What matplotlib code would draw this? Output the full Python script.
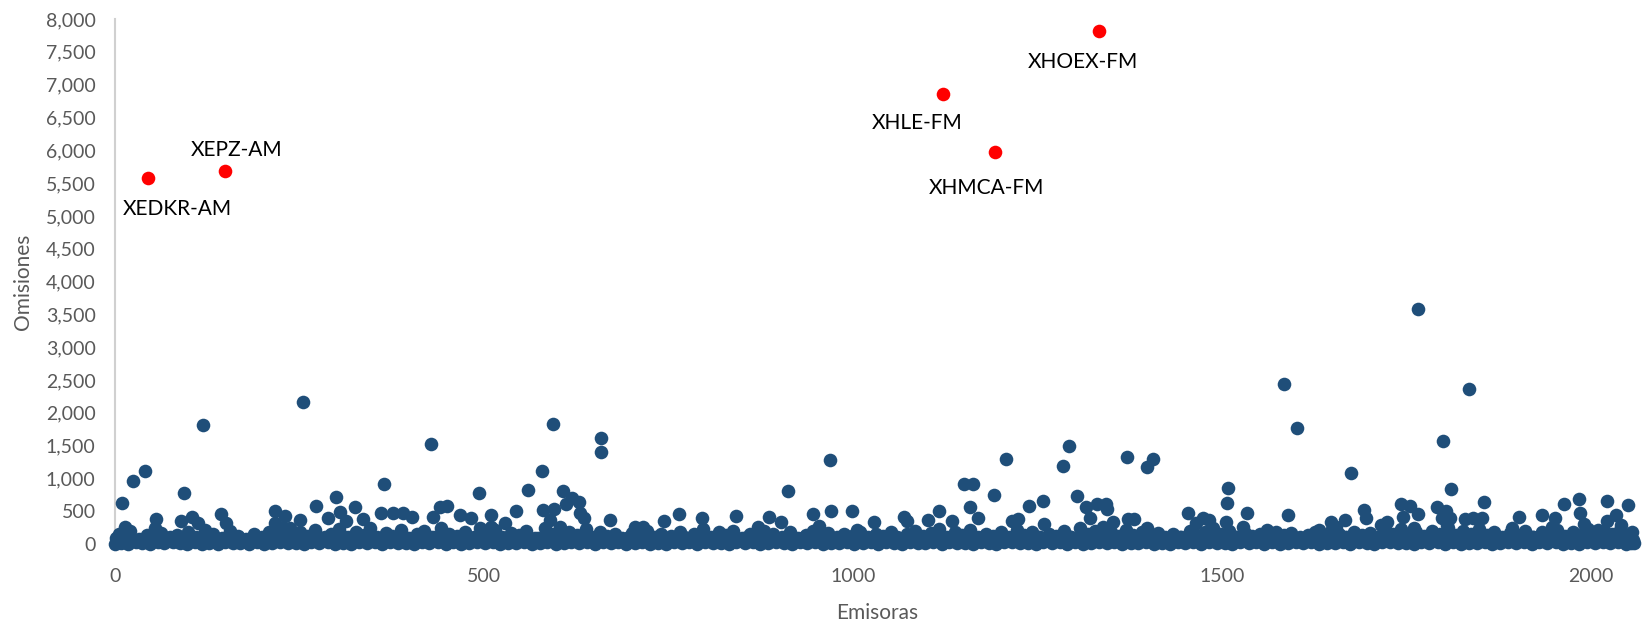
import matplotlib
matplotlib.use("Agg")
import matplotlib.pyplot as plt
from matplotlib.ticker import FuncFormatter, MultipleLocator

plt.rcParams['font.family'] = ['Lato', 'DejaVu Sans']

# Emisoras destacadas (en rojo)
red_names = ['XEDKR-AM', 'XEPZ-AM', 'XHLE-FM', 'XHMCA-FM', 'XHOEX-FM']
red_x = [45, 149, 1122, 1192, 1333]
red_y = [5580, 5690, 6860, 5980, 7820]

# Emisoras con muchas omisiones (x, omisiones)
hi_pts = [
    (10, 630), (24, 965), (40, 1112), (14, 254), (56, 386), (54, 239), (93, 782), (90, 356),
    (104, 406), (113, 315), (119, 1818), (143, 457), (151, 315), (217, 498), (217, 315),
    (231, 432), (237, 239), (250, 361), (255, 2169), (273, 584), (289, 396), (299, 721),
    (305, 483), (313, 356), (325, 569), (336, 381), (360, 478), (364, 914), (377, 467),
    (390, 467), (403, 416), (428, 1524), (431, 416), (440, 559), (450, 579), (467, 447),
    (482, 391), (493, 782), (495, 239), (509, 447), (510, 254), (528, 315), (544, 508),
    (559, 823), (578, 1112), (580, 518), (589, 366), (594, 1834), (595, 528), (607, 803),
    (611, 605), (619, 706), (629, 635), (630, 478), (636, 391), (658, 1397), (659, 1620),
    (671, 366), (705, 254), (716, 264), (744, 356), (764, 462), (796, 391), (842, 432),
    (871, 254), (886, 416), (902, 330), (912, 803), (946, 457), (954, 274), (969, 1285),
    (970, 508), (998, 498), (1005, 213), (1029, 340), (1069, 416), (1073, 356), (1102, 366),
    (1117, 508), (1134, 356), (1151, 909), (1158, 564), (1163, 909), (1169, 396), (1191, 747),
    (1207, 1295), (1216, 356), (1223, 376), (1238, 579), (1258, 660), (1259, 305),
    (1285, 1189), (1292, 1498), (1304, 731), (1316, 559), (1321, 391), (1331, 610),
    (1343, 610), (1344, 533), (1352, 330), (1371, 1331), (1373, 381), (1381, 381),
    (1398, 1168), (1399, 239), (1406, 1295), (1454, 467), (1465, 315), (1474, 391),
    (1483, 366), (1505, 335), (1507, 620), (1508, 859), (1529, 254), (1534, 467), (1561, 218),
    (1584, 2433), (1589, 447), (1602, 1763), (1631, 213), (1647, 340), (1655, 264),
    (1666, 366), (1675, 1087), (1692, 518), (1695, 391), (1715, 289), (1724, 330),
    (1743, 605), (1745, 406), (1755, 579), (1760, 239), (1765, 457), (1766, 3576),
    (1791, 559), (1798, 391), (1799, 1569), (1804, 508), (1805, 289), (1809, 391),
    (1810, 833), (1829, 381), (1835, 2357), (1840, 391), (1852, 391), (1855, 645),
    (1893, 239), (1902, 416), (1933, 437), (1947, 264), (1951, 391), (1963, 610),
    (1984, 691), (1985, 478), (1991, 305), (2010, 213), (2022, 655), (2022, 356),
    (2034, 442), (2040, 289), (2050, 600),
]

# Emisoras con pocas omisiones (banda baja)
band_low = [
    (0,0),(3,40),(8,15),(18,5),(28,30),(37,10),(47,0),(58,25),(67,8),(78,35),(88,12),(97,0),
    (108,28),(118,6),(128,18),(139,0),(149,32),(160,10),(170,22),(181,4),(192,30),(202,0),
    (213,16),(224,38),(234,8),(245,20),(256,0),(266,34),(277,12),(288,26),(298,4),(309,18),
    (320,0),(330,36),(341,14),(352,24),(362,2),(373,30),(384,10),(394,20),(405,0),(416,38),
    (426,12),(437,26),(448,6),(458,32),(469,0),(480,18),(490,28),(501,8),(512,36),(522,0),
    (533,22),(544,12),(554,30),(565,4),(576,20),(586,34),(597,0),(608,16),(618,26),(629,8),
    (640,38),(650,0),(661,24),(672,14),(682,32),(693,2),(704,20),(714,30),(725,6),(736,16),
    (746,0),(757,36),(768,12),(778,24),(789,4),(800,30),(810,10),(821,22),(832,0),(842,34),
    (853,14),(864,26),(874,2),(885,18),(896,32),(906,8),(917,0),(928,28),(938,16),(949,36),
    (960,4),(970,22),(981,12),(992,30),(1002,0),(1013,20),(1024,34),(1034,6),(1045,24),
    (1056,14),(1066,0),(1077,32),(1088,18),(1098,8),(1109,28),(1120,0),(1130,38),(1141,12),
    (1152,22),(1162,4),(1173,30),(1184,16),(1194,0),(1205,26),(1216,36),(1226,10),(1237,20),
    (1248,0),(1258,32),(1269,14),(1280,24),(1290,6),(1301,34),(1312,0),(1322,18),(1333,28),
    (1344,8),(1354,38),(1365,0),(1376,22),(1386,12),(1397,30),(1408,4),(1418,20),(1429,0),
    (1440,36),(1450,14),(1461,26),(1472,2),(1482,32),(1493,10),(1504,22),(1514,0),(1525,28),
    (1536,16),(1546,34),(1557,6),(1568,24),(1578,0),(1589,18),(1600,30),(1610,8),(1621,38),
    (1632,0),(1642,20),(1653,12),(1664,28),(1674,4),(1685,32),(1696,14),(1706,0),(1717,24),
    (1728,36),(1738,10),(1749,20),(1760,0),(1770,30),(1781,16),(1792,26),(1802,6),(1813,34),
    (1824,0),(1834,22),(1845,12),(1856,30),(1866,2),(1877,18),(1888,28),(1898,8),(1909,36),
    (1920,0),(1930,24),(1941,14),(1952,32),(1962,4),(1973,20),(1984,0),(1994,30),(2005,16),
    (2016,26),(2026,8),(2037,34),(2048,0),(2054,20),(2058,10),
]

band_fill = [
    (5,70),(15,95),(25,60),(41,85),(50,110),(62,70),(75,100),(91,65),(103,90),(114,75),
    (125,105),(136,60),(152,85),(163,100),(175,65),(185,95),(196,70),(206,110),(218,80),
    (230,60),(238,100),(248,75),(262,95),(272,60),(284,105),(295,80),(306,65),(312,100),
    (323,70),(334,90),(348,110),(358,65),(370,85),(380,60),(391,100),(401,75),(412,95),
    (422,65),(430,110),(440,80),(455,70),(466,100),(478,65),(488,90),(496,110),(506,70),
    (519,95),(530,60),(541,85),(551,105),(562,70),(573,95),(580,60),(590,100),(600,80),
    (611,110),(621,65),(633,90),(644,75),(653,105),(663,60),(675,95),(685,70),(696,100),
    (706,65),(717,90),(728,80),(738,105),(749,60),(760,85),(771,100),(781,70),(792,95),
    (803,65),(813,105),(824,75),(835,90),(845,60),(856,100),(867,80),(877,65),(888,105),
    (899,75),(910,95),(920,60),(931,85),(941,110),(952,70),(963,95),(973,65),(984,100),
    (995,80),(1005,60),(1016,105),(1027,75),(1037,95),(1048,65),(1059,100),(1070,80),
    (1080,60),(1091,110),(1102,70),(1112,90),(1123,65),(1134,100),(1144,80),(1155,95),
    (1166,60),(1176,105),(1187,75),(1198,90),(1208,65),(1219,100),(1229,80),(1240,60),
    (1251,105),(1262,75),(1272,95),(1283,65),(1294,110),(1305,80),(1315,60),(1326,100),
    (1336,75),(1347,95),(1358,65),(1368,105),(1379,80),(1389,60),(1400,100),(1411,75),
    (1421,95),(1432,65),(1443,105),(1453,80),(1464,60),(1475,100),(1485,75),(1496,95),
    (1507,65),(1517,105),(1528,80),(1539,60),(1549,100),(1560,75),(1570,95),(1581,65),
    (1592,105),(1602,80),(1613,60),(1624,100),(1634,75),(1645,95),(1656,65),(1666,105),
    (1677,80),(1688,60),(1698,100),(1709,75),(1720,95),(1730,65),(1741,105),(1752,80),
    (1762,60),(1773,100),(1784,75),(1794,95),(1805,65),(1816,105),(1826,80),(1837,60),
    (1848,100),(1858,75),(1869,95),(1880,65),(1890,105),(1901,80),(1912,60),(1922,100),
    (1933,75),(1944,95),(1954,65),(1965,105),(1976,80),(1986,60),(1997,100),(2008,75),
    (2018,95),(2029,65),(2040,105),(2050,80),(2057,60),
]

band_mid = [
    (2,90),(6,150),(12,120),(20,200),(33,80),(44,140),(52,100),(63,170),(72,90),(84,130),
    (99,180),(110,110),(122,220),(133,150),(145,90),(156,200),(166,120),(178,80),(188,160),
    (199,110),(209,190),(221,140),(228,250),(240,100),(251,180),(260,120),(271,210),(281,90),
    (293,160),(303,230),(316,110),(327,180),(338,140),(345,250),(355,100),(367,170),(376,120),
    (387,210),(398,90),(409,150),(419,200),(433,110),(442,240),(452,160),(463,120),(474,190),
    (486,100),(500,150),(515,220),(525,110),(537,170),(548,130),(557,200),(569,90),(583,240),
    (593,150),(603,260),(615,190),(626,140),(638,230),(647,110),(657,180),(666,120),(678,150),
    (687,90),(700,170),(710,120),(721,200),(732,100),(740,160),(753,120),(766,190),(775,90),
    (785,150),(797,230),(808,110),(818,180),(828,130),(838,200),(850,90),(860,150),(870,120),
    (880,200),(892,160),(904,110),(914,180),(925,90),(936,140),(946,200),(957,120),(966,170),
    (978,100),(988,150),(999,120),(1010,180),(1020,100),(1031,150),(1041,120),(1052,190),
    (1062,90),(1073,160),(1084,200),(1095,120),(1106,170),(1116,230),(1127,110),(1138,180),
    (1148,140),(1159,210),(1170,100),(1180,160),(1190,120),(1201,190),(1212,110),(1222,220),
    (1232,140),(1243,180),(1254,100),(1265,160),(1275,120),(1286,200),(1296,100),(1308,240),
    (1318,150),(1328,200),(1339,260),(1349,180),(1360,120),(1370,220),(1380,140),(1392,190),
    (1402,120),(1413,170),(1423,100),(1434,150),(1445,110),(1456,200),(1466,130),(1477,180),
    (1488,240),(1498,150),(1510,200),(1520,110),(1531,170),(1541,120),(1552,160),(1563,110),
    (1573,180),(1584,130),(1594,170),(1605,100),(1616,140),(1626,180),(1637,120),(1648,200),
    (1658,150),(1669,110),(1679,190),(1690,130),(1700,170),(1711,110),(1722,200),(1732,150),
    (1742,230),(1753,130),(1763,180),(1774,120),(1784,200),(1795,150),(1806,240),(1817,130),
    (1827,200),(1838,150),(1848,230),(1859,140),(1869,180),(1880,100),(1890,170),(1901,130),
    (1911,200),(1922,110),(1933,180),(1943,140),(1954,210),(1965,120),(1975,190),(1986,140),
    (1996,230),(2007,120),(2018,200),(2028,150),(2039,220),(2049,130),(2056,180),
]

# desplazamiento de las etiquetas en pixeles (dx, dy)
label_offsets = {
    'XEDKR-AM': (29, -31), 'XEPZ-AM': (12, 21), 'XHLE-FM': (-26, -29),
    'XHMCA-FM': (-8, -36), 'XHOEX-FM': (-16, -31),
}

blue = '#1F4E79'
gray = '#595959'
msize = 96

fig = plt.figure(figsize=(16.46, 6.28), dpi=100)
ax = fig.add_axes([115 / 1646, 84 / 628, 1524 / 1646, 525 / 628])

blue_pts = band_low + band_fill + band_mid + hi_pts
bx = [p[0] for p in blue_pts]
by = [p[1] for p in blue_pts]
ax.scatter(bx, by, s=msize, color=blue, linewidths=0, clip_on=False, zorder=3)
ax.scatter(red_x, red_y, s=msize, color='#FF0000', linewidths=0, clip_on=False, zorder=4)

for name, x, y in zip(red_names, red_x, red_y):
    dx, dy = label_offsets[name]
    ax.annotate(name, (x, y), xytext=(dx * 0.72, dy * 0.72), textcoords='offset points',
                ha='center', va='center', fontsize=15, color='black', zorder=5)

ax.set_xlim(0, 2065)
ax.set_ylim(0, 8000)
ax.xaxis.set_major_locator(MultipleLocator(500))
ax.yaxis.set_major_locator(MultipleLocator(500))
ax.yaxis.set_major_formatter(FuncFormatter(lambda v, p: f'{v:,.0f}'))

for s in ['top', 'right', 'bottom']:
    ax.spines[s].set_visible(False)
ax.spines['left'].set_color('#D0D0D0')
ax.spines['left'].set_linewidth(1.5)
ax.spines['left'].set_zorder(1)

ax.tick_params(axis='both', length=0, labelsize=14, labelcolor=gray)
ax.tick_params(axis='y', pad=14)
ax.tick_params(axis='x', pad=17)

ax.set_xlabel('Emisoras', fontsize=15, color=gray)
ax.set_ylabel('Omisiones', fontsize=15, color=gray)
ax.xaxis.label.set_va('center')
ax.yaxis.label.set_va('center')
ax.xaxis.set_label_coords(0.5, -69 / 525)
ax.yaxis.set_label_coords(-92 / 1524, 0.5)

fig.savefig('out.png', dpi=100)
